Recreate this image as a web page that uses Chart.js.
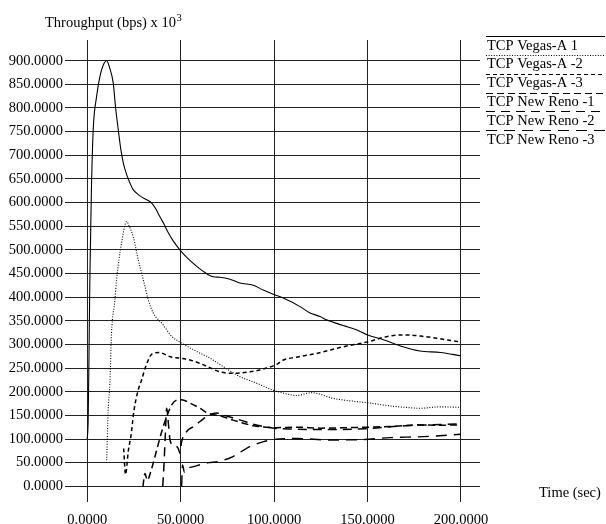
<!DOCTYPE html>
<html>
<head>
<meta charset="utf-8">
<script src="https://cdn.jsdelivr.net/npm/chart.js@4/dist/chart.umd.min.js"></script>
<style>
  html, body { margin: 0; padding: 0; background: #fff; }
  #wrap { width: 606px; height: 524px; position: relative; }
</style>
</head>
<body>
<div id="wrap"><canvas id="c" width="606" height="524"></canvas></div>
<script>
// ---- tick labels ----
const xTicks = [0, 50, 100, 150, 200];
const yTicks = [0, 50, 100, 150, 200, 250, 300, 350, 400, 450, 500, 550, 600, 650, 700, 750, 800, 850, 900];
const yTitle = "Throughput (bps) x 10";
const yTitleSup = "3";
const xTitle = "Time (sec)";
const seriesNames = ["TCP Vegas-A 1", "TCP Vegas-A -2", "TCP Vegas-A -3", "TCP New Reno -1", "TCP New Reno -2", "TCP New Reno -3"];

// ---- series values (time in sec, throughput in kbps) ----
const vegas1T = [0, 0.5, 1, 1.4, 2.2, 3.2, 5, 6.8, 8.6, 10.4, 12, 13.9, 15.2, 16.6, 18, 19.3, 21, 22.9, 24.5, 26.4, 29, 31.8, 34.5, 36.5, 38.9, 41, 43.4, 46, 49.6, 53, 58.6, 63, 67.5, 71, 76.4, 81.7, 88.9, 94.2, 99.6, 104.9, 113.9, 119, 124.6, 128, 137, 144, 150, 158.5, 169, 178, 189, 200];
const vegas1V = [100, 140, 300, 437, 620, 754, 824, 867, 891, 900, 885, 853, 800, 754, 712, 684, 660, 641, 628, 620, 612, 606, 599, 588, 570, 555, 536, 519, 500, 485, 465, 452, 443, 442, 438, 430, 425, 415, 406, 398, 380, 367, 359, 352, 340, 331, 320, 310, 295, 286, 283, 276];

const vegas2T = [10.4, 11.2, 12.2, 13, 14.8, 15.7, 17, 18.4, 20, 21.1, 22.5, 24.6, 27.3, 30, 32.7, 35.3, 40.7, 45.2, 50.5, 58.6, 65.7, 72.8, 81.7, 90.7, 99.6, 106, 112, 120, 131.7, 140, 149.6, 162, 170, 178, 189, 200];
const vegas2V = [55, 158, 225, 324, 394, 437, 480, 515, 550, 560, 550, 528, 479, 437, 394, 367, 341, 317, 303, 285, 271, 253, 232, 218, 203, 196, 192, 198, 186, 181, 177, 170, 167, 165, 168, 167];

const vegas3T = [19.5, 20.5, 22, 23.5, 25, 27.3, 29.1, 31, 33.5, 35, 38.9, 41, 44.3, 49.6, 55, 60.3, 65, 71, 78.2, 87, 96, 101.4, 105, 112, 122.8, 137, 149.6, 162, 171, 180, 187, 200];
const vegas3V = [80, 25, 75, 110, 160, 204, 225, 250, 274, 281, 283, 280, 274, 271, 267, 260, 252, 242, 239, 242, 250, 258, 267, 273, 281, 295, 305, 318, 320, 317, 313, 305];

const reno1T = [29.8, 30.9, 32.1, 34.5, 37.2, 39.8, 42.5, 45.2, 48.7, 50.5, 55, 60.3, 64.8, 70, 78, 89, 101, 112, 125, 140, 150, 165, 176, 188, 200];
const reno1V = [0, 27, 13, 38, 77, 115, 147, 172, 183, 183, 176, 165, 154, 150, 140, 128, 124, 125, 123, 124, 125, 127, 130, 129, 130];

const reno2T = [40.4, 41, 41.8, 42.5, 43.5, 44.3, 46, 47.5, 48.7, 49.6, 50.5, 53.2, 56.7, 60.3, 64.8, 69, 75, 82, 90, 100, 110, 130, 150, 170, 185, 200];
const reno2V = [0, 40, 110, 165, 130, 98, 87, 85, 80, 70, 94, 116, 126, 137, 150, 155, 148, 140, 130, 123, 121, 120, 122, 128, 130, 132];

const reno3T = [50.5, 51, 52, 53.2, 55, 60, 65, 70, 78, 87, 94, 100, 112, 130, 148, 162, 180, 200];
const reno3V = [0, 45, 30, 38, 40, 45, 50, 52, 63, 84, 94, 99, 101, 98, 99, 103, 105, 110];

// ---- build datasets ----
const FONT = "'Liberation Serif', 'Times New Roman', serif";
const FSIZE = 14.5;
function pts(t, v) { return t.map((x, i) => ({ x: x, y: v[i] })); }
const seriesT = [vegas1T, vegas2T, vegas3T, reno1T, reno2T, reno3T];
const seriesV = [vegas1V, vegas2V, vegas3V, reno1V, reno2V, reno3V];
const dashes = [[], [1, 1.6], [4, 3], [7, 4], [9, 6], [11, 7]];
const widths = [1.1, 1.1, 1.5, 1.5, 1.5, 1.4];

const datasets = seriesNames.map((name, i) => ({
  label: name,
  data: pts(seriesT[i], seriesV[i]),
  borderColor: '#000',
  borderWidth: widths[i],
  borderDash: dashes[i],
  pointRadius: 0,
  fill: false,
  tension: 0,
  cubicInterpolationMode: 'monotone'
}));

const decorPlugin = {
  id: 'decor',
  afterDraw(chart) {
    const ctx = chart.ctx;
    ctx.save();
    ctx.fillStyle = '#000';
    ctx.textBaseline = 'alphabetic';
    ctx.textAlign = 'left';
    // y title
    ctx.font = FSIZE + 'px ' + FONT;
    ctx.fillText(yTitle, 45, 26.5);
    const w = ctx.measureText(yTitle).width;
    ctx.font = '10.5px ' + FONT;
    ctx.fillText(yTitleSup, 45 + w + 0.5, 21);
    // x title
    ctx.font = FSIZE + 'px ' + FONT;
    ctx.fillText(xTitle, 539, 497);
    // legend
    const x0 = 486, x1 = 605;
    chart.data.datasets.forEach((ds, i) => {
      const ly = 36 + i * 18.85;
      ctx.beginPath();
      ctx.setLineDash(ds.borderDash);
      ctx.lineWidth = 1;
      ctx.strokeStyle = '#000';
      ctx.moveTo(x0, Math.round(ly) + 0.5);
      ctx.lineTo(x1, Math.round(ly) + 0.5);
      ctx.stroke();
      ctx.setLineDash([]);
      ctx.font = FSIZE + 'px ' + FONT;
      ctx.fillText(ds.label, 487, ly + 13.6);
    });
    ctx.restore();
  }
};

new Chart(document.getElementById('c'), {
  type: 'line',
  data: { datasets: datasets },
  options: {
    responsive: false,
    animation: false,
    events: [],
    layout: { padding: { left: 0, right: 126, top: 40, bottom: 0 } },
    plugins: { legend: { display: false }, tooltip: { enabled: false } },
    scales: {
      x: {
        type: 'linear',
        min: -11.9,
        max: 210.2,
        afterBuildTicks(scale) { scale.ticks = xTicks.map(v => ({ value: v })); },
        afterFit(scale) { scale.height = 22; scale.paddingLeft = 0; scale.paddingRight = 0; },
        grid: { color: '#222', lineWidth: 1, drawTicks: false },
        border: { display: false },
        ticks: {
          autoSkip: false, maxRotation: 0, padding: 9, color: '#000',
          font: { family: FONT, size: FSIZE },
          callback: v => Number(v).toFixed(4)
        }
      },
      y: {
        type: 'linear',
        min: -33.2,
        max: 943.8,
        afterBuildTicks(scale) { scale.ticks = yTicks.map(v => ({ value: v })); },
        afterFit(scale) { scale.width = 65; scale.paddingTop = 0; scale.paddingBottom = 0; },
        grid: { color: '#222', lineWidth: 1, drawTicks: false },
        border: { display: false },
        ticks: {
          autoSkip: false, padding: 2, color: '#000',
          font: { family: FONT, size: FSIZE },
          callback: v => Number(v).toFixed(4)
        }
      }
    }
  },
  plugins: [decorPlugin]
});
</script>
</body>
</html>
